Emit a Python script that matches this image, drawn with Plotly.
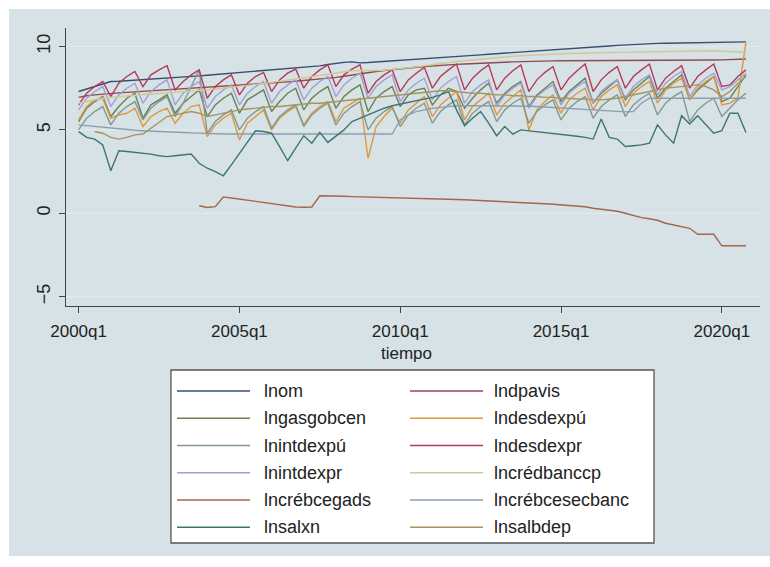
import plotly.graph_objects as go

# ---------------- data ----------------
quarters = [f"{y}q{q}" for y in range(2000, 2021) for q in range(1, 5)]
tick_vals = ["2000q1", "2005q1", "2010q1", "2015q1", "2020q1"]
ytick_vals = [-5, 0, 5, 10]

lnom = [7.30, 7.45, 7.60, 7.75, 7.90, 7.92, 7.95, 7.97, 8.00, 8.03, 8.06, 8.08,
        8.12, 8.16, 8.20, 8.24, 8.28, 8.32, 8.36, 8.40, 8.44, 8.48, 8.52, 8.55,
        8.58, 8.62, 8.66, 8.70, 8.74, 8.78, 8.84, 8.92, 9.00, 9.05, 9.08, 9.02,
        9.04, 9.07, 9.10, 9.15, 9.18, 9.21, 9.25, 9.28, 9.31, 9.34, 9.37, 9.40,
        9.43, 9.47, 9.50, 9.54, 9.57, 9.61, 9.64, 9.68, 9.71, 9.75, 9.78, 9.82,
        9.85, 9.87, 9.89, 9.92, 9.95, 9.99, 10.03, 10.07, 10.10, 10.13, 10.15, 10.17,
        10.19, 10.20, 10.21, 10.22, 10.22, 10.23, 10.24, 10.25, 10.25, 10.26, 10.27, 10.28]

lndpavis = [6.95, 7.05, 7.10, 7.15, 7.20, 7.22, 7.25, 7.28, 7.30, 7.33, 7.36, 7.40,
            7.42, 7.45, 7.48, 7.52, 7.55, 7.58, 7.61, 7.64, 7.67, 7.70, 7.73, 7.77,
            7.80, 7.84, 7.88, 7.92, 7.96, 8.00, 8.05, 8.10, 8.15, 8.22, 8.30, 8.36,
            8.42, 8.50, 8.56, 8.62, 8.68, 8.72, 8.76, 8.80, 8.84, 8.87, 8.90, 8.93,
            8.95, 8.98, 9.00, 9.02, 9.04, 9.06, 9.08, 9.10, 9.11, 9.12, 9.13, 9.14,
            9.15, 9.15, 9.16, 9.16, 9.16, 9.17, 9.17, 9.17, 9.17, 9.17, 9.18, 9.18,
            9.18, 9.18, 9.18, 9.18, 9.18, 9.18, 9.19, 9.19, 9.20, 9.22, 9.24, 9.25]

lngasgobcen = [5.5, 6.3, 6.7, 7.0, 5.8, 6.4, 6.9, 7.2, 5.7, 6.5, 6.8, 7.1,
               6.0, 6.6, 7.0, 7.4, 5.8, 6.5, 6.9, 7.2, 6.0, 6.8, 7.1, 7.4,
               6.1, 6.7, 7.2, 7.5, 6.2, 6.9, 7.3, 7.6, 6.3, 7.0, 7.4, 7.7,
               6.1, 6.9, 7.3, 7.6, 6.4, 7.1, 7.4, 7.5, 6.5, 7.1, 7.5, 7.3,
               6.3, 6.9, 7.4, 7.8, 6.6, 7.2, 7.6, 7.9, 6.4, 7.1, 7.5, 7.9,
               6.7, 7.3, 7.7, 8.1, 6.6, 7.2, 7.6, 8.0, 6.8, 7.4, 7.8, 8.2,
               6.9, 7.5, 7.9, 8.3, 6.8, 7.4, 7.8, 8.2, 6.7, 6.9, 7.6, 8.3]

lndesdexpu = [5.6, 6.4, 6.8, 6.9, 5.7, 5.9, 6.0, 6.3, 5.2, 5.8, 6.1, 6.3,
              5.4, 6.0, 6.4, 6.5, 4.6, 5.3, 5.7, 6.0, 4.4, 5.4, 5.8, 6.2,
              5.0, 5.7, 6.1, 6.4, 5.3, 6.0, 6.4, 6.7, 5.5, 6.3, 6.6, 6.9,
              3.3, 5.2, 5.8, 6.3, 5.4, 6.2, 6.6, 7.0, 5.8, 6.5, 6.9, 7.3,
              5.6, 6.4, 6.8, 7.2, 5.9, 6.6, 7.0, 7.4, 5.0, 6.2, 6.7, 7.1,
              6.0, 6.8, 7.2, 7.5, 6.2, 7.0, 7.4, 7.7, 6.4, 7.2, 7.6, 7.9,
              6.6, 7.4, 7.8, 8.1, 6.8, 7.5, 7.9, 8.2, 6.5, 6.6, 6.9, 10.25]

lnintdexpu = [5.0, 5.7, 6.1, 6.4, 5.3, 6.0, 6.4, 6.7, 5.6, 6.3, 6.7, 7.0,
              5.8, 6.6, 7.6, 8.6, 4.8, 5.5, 5.9, 6.2, 5.0, 5.7, 6.1, 6.4,
              5.1, 5.8, 6.2, 6.5, 5.2, 5.9, 6.3, 6.6, 5.3, 6.0, 6.4, 6.7,
              5.0, 5.7, 6.1, 6.4, 5.2, 5.9, 6.3, 6.6, 5.4, 6.1, 6.5, 6.8,
              5.3, 6.0, 6.4, 6.7, 5.5, 6.2, 6.6, 6.9, 5.4, 6.1, 6.5, 6.8,
              5.6, 6.3, 6.7, 7.0, 5.7, 6.4, 6.8, 7.1, 5.8, 6.5, 6.9, 7.2,
              5.9, 6.6, 7.0, 7.3, 5.5, 6.2, 6.6, 6.9, 5.8, 6.3, 6.8, 7.2]

lndesdexpr = [6.5, 7.2, 7.6, 7.9, 7.0, 7.8, 8.2, 8.5, 7.6, 8.3, 8.6, 8.85,
              7.4, 7.9, 8.3, 8.6, 6.9, 7.6, 8.0, 8.3, 7.1, 7.8, 8.2, 8.45,
              7.3, 8.0, 8.4, 8.65, 7.5, 8.2, 8.6, 8.9, 7.6, 8.3, 8.65, 8.9,
              7.2, 7.9, 8.3, 8.6, 7.3, 8.0, 8.4, 8.75, 7.5, 8.2, 8.6, 8.95,
              7.4, 8.1, 8.55, 8.9, 7.4, 8.1, 8.55, 8.9, 7.3, 8.0, 8.45, 8.8,
              7.4, 8.1, 8.55, 8.95, 7.3, 8.0, 8.45, 8.8, 7.5, 8.2, 8.6, 8.95,
              7.4, 8.1, 8.5, 8.85, 7.5, 8.2, 8.6, 8.95, 7.6, 7.7, 8.2, 8.6]

lnintdexpr = [6.2, 6.9, 7.3, 7.6, 6.4, 7.1, 7.5, 7.8, 6.6, 7.3, 7.7, 8.0,
              6.5, 7.2, 7.6, 7.9, 6.3, 7.0, 7.4, 7.7, 6.5, 7.2, 7.6, 7.9,
              6.6, 7.3, 7.7, 8.0, 6.8, 7.5, 7.9, 8.2, 7.0, 7.7, 8.1, 8.4,
              6.9, 7.6, 8.0, 8.3, 6.7, 7.4, 7.8, 8.1, 6.8, 7.5, 7.9, 8.2,
              6.6, 7.3, 7.7, 8.0, 6.4, 7.1, 7.5, 7.8, 6.3, 7.0, 7.4, 7.7,
              6.5, 7.2, 7.6, 7.9, 6.6, 7.3, 7.7, 8.0, 6.9, 7.6, 8.0, 8.3,
              7.1, 7.8, 8.2, 8.5, 7.0, 7.7, 8.1, 8.4, 7.4, 7.6, 8.0, 8.4]

lncredbanccp = [6.60, 6.70, 6.80, 6.90, 6.95, 7.00, 7.05, 7.10, 7.12, 7.15, 7.18, 7.22,
                7.25, 7.28, 7.32, 7.36, 7.40, 7.45, 7.50, 7.55, 7.60, 7.66, 7.72, 7.78,
                7.85, 7.92, 7.98, 8.05, 8.12, 8.20, 8.28, 8.36, 8.44, 8.50, 8.55, 8.56,
                8.55, 8.56, 8.58, 8.62, 8.66, 8.72, 8.78, 8.85, 8.92, 8.98, 9.04, 9.10,
                9.15, 9.20, 9.25, 9.30, 9.34, 9.38, 9.42, 9.45, 9.48, 9.51, 9.53, 9.55,
                9.57, 9.58, 9.60, 9.61, 9.62, 9.63, 9.64, 9.65, 9.66, 9.67, 9.68, 9.69,
                9.70, 9.71, 9.72, 9.73, 9.73, 9.74, 9.74, 9.75, 9.72, 9.70, 9.68, 9.66]

lncrebcegads = [None, None, None, None, None, None, None, None, None, None, None, None,
                None, None, None, 0.45, 0.35, 0.40, 0.98, 0.92, 0.85, 0.78, 0.72, 0.66,
                0.60, 0.52, 0.45, 0.38, 0.36, 0.38, 1.05, 1.05, 1.03, 1.02, 1.00, 0.99,
                0.98, 0.97, 0.96, 0.95, 0.94, 0.92, 0.91, 0.90, 0.88, 0.86, 0.85, 0.83,
                0.81, 0.79, 0.77, 0.75, 0.73, 0.70, 0.68, 0.66, 0.63, 0.60, 0.57, 0.54,
                0.51, 0.47, 0.43, 0.39, 0.30, 0.25, 0.20, 0.12, 0.00, -0.15, -0.26, -0.33,
                -0.42, -0.60, -0.70, -0.82, -0.90, -1.26, -1.26, -1.26, -1.95, -1.95, -1.95, -1.95]

lncrebcesecbanc = [5.30, 5.25, 5.20, 5.15, 5.10, 5.05, 5.00, 4.98, 4.95, 4.92, 4.90, 4.88,
                   4.86, 4.84, 4.82, 4.80, 4.75, 4.75, 4.75, 4.75, 4.75, 4.75, 4.75, 4.75,
                   4.75, 4.75, 4.75, 4.75, 4.75, 4.75, 4.75, 4.75, 4.75, 4.75, 4.75, 4.75,
                   4.75, 4.75, 4.75, 4.75, 5.60, 5.90, 6.10, 6.20, 6.30, 6.35, 6.40, 6.45,
                   6.45, 6.45, 6.45, 6.45, 6.45, 6.45, 6.45, 6.44, 6.42, 6.40, 6.37, 6.34,
                   6.30, 6.27, 6.24, 6.20, 6.18, 6.15, 6.12, 6.10, 6.08, 6.10, 6.60, 6.90,
                   6.90, 6.90, 6.90, 6.90, 6.90, 6.90, 6.90, 6.90, 6.90, 6.90, 6.90, 6.90]

lnsalxn = [4.90, 4.55, 4.45, 4.10, 2.55, 3.75, 3.70, 3.65, 3.60, 3.55, 3.45, 3.40,
           3.45, 3.50, 3.55, 3.00, 2.70, 2.50, 2.25, 2.90, 3.60, 4.30, 4.95, 4.90,
           4.80, 4.00, 3.15, 3.90, 4.65, 4.20, 4.85, 4.25, 4.60, 5.00, 5.50, 5.70,
           5.90, 6.10, 6.30, 6.45, 6.55, 6.65, 6.75, 6.85, 6.95, 7.10, 7.30, 6.20,
           5.25, 5.70, 6.10, 5.40, 4.65, 5.20, 4.75, 5.00, 4.95, 4.90, 4.85, 4.80,
           4.75, 4.70, 4.62, 4.55, 4.45, 5.65, 4.55, 4.45, 4.00, 4.05, 4.10, 4.20,
           5.30, 4.70, 4.20, 5.85, 5.35, 5.85, 5.30, 4.80, 4.95, 6.00, 6.00, 4.85]

lnsalbdep = [None, None, 4.90, 4.80, 4.55, 4.45, 4.55, 4.70, 4.75, 5.10, 5.50, 5.80,
             5.90, 6.00, 6.10, 6.00, 5.80, 5.90, 6.00, 6.10, 6.20, 6.25, 6.30, 6.35,
             6.40, 6.40, 6.45, 6.50, 6.55, 6.60, 6.60, 6.65, 6.70, 6.75, 6.80, 6.85,
             6.90, 6.95, 7.00, 7.05, 7.10, 7.15, 7.20, 7.25, 7.30, 7.35, 7.35, 7.30,
             7.25, 7.20, 7.20, 7.15, 7.10, 7.10, 7.05, 7.05, 7.00, 7.00, 6.95, 6.95,
             6.90, 6.90, 6.85, 6.85, 6.80, 6.80, 6.85, 6.90, 7.00, 7.10, 7.20, 7.30,
             7.40, 7.50, 7.55, 7.60, 7.65, 7.70, 7.60, 7.40, 7.00, 7.30, 7.80, 8.20]

series_names = ["lnom", "lndpavis", "lngasgobcen", "lndesdexpú", "lnintdexpú", "lndesdexpr",
                "lnintdexpr", "lncrédbanccp", "lncrébcegads", "lncrébcesecbanc", "lnsalxn", "lnsalbdep"]
series_values = [lnom, lndpavis, lngasgobcen, lndesdexpu, lnintdexpu, lndesdexpr,
                 lnintdexpr, lncredbanccp, lncrebcegads, lncrebcesecbanc, lnsalxn, lnsalbdep]
# muted Stata s2color palette (as it appears in the washed-out reference)
series_colors = ["#34506e", "#93494e", "#6b8052", "#e0973c", "#83998f", "#b53a5a",
                 "#a39fd4", "#d0c993", "#a4654a", "#8c9fb2", "#3f7570", "#a59560"]

# ---------------- layout geometry (pixels) ----------------
W, H = 770, 567
L, R, T, B = 66, 10, 28, 261
PW, PH = W - L - R, H - T - B
FONT = "Liberation Sans, Arial, sans-serif"


def fx(px):
    return (px - L) / PW


def fy(py):
    return (T + PH - py) / PH


fig = go.Figure()
for name, vals, col in zip(series_names, series_values, series_colors):
    fig.add_trace(go.Scatter(x=quarters, y=vals, mode="lines", name=name,
                             line=dict(color=col, width=1.4), connectgaps=False,
                             showlegend=False))

shapes = []
# outer light bluish-gray graph region
shapes.append(dict(type="rect", xref="paper", yref="paper", x0=fx(9), x1=fx(770), y0=fy(556), y1=fy(9),
                   fillcolor="#d6e2e5", line=dict(width=0), layer="below"))
# gridlines
for v in ytick_vals:
    shapes.append(dict(type="line", xref="paper", yref="y", x0=0, x1=1, y0=v, y1=v,
                       line=dict(color="#e2eaec", width=1.2), layer="below"))

# legend box
lx0, lx1, ly0, ly1 = 171, 654, 370, 543
shapes.append(dict(type="rect", xref="paper", yref="paper", x0=fx(lx0), x1=fx(lx1), y0=fy(ly1), y1=fy(ly0),
                   fillcolor="white", line=dict(color="#555555", width=1.3), layer="above"))
annotations = []
row_y = [391, 418.3, 445.5, 472.7, 500, 527.3]
col_line = [(177, 250), (410, 483)]
col_text = [262, 492]
for i, (name, col) in enumerate(zip(series_names, series_colors)):
    r, c = divmod(i, 2)
    yy = fy(row_y[r])
    shapes.append(dict(type="line", xref="paper", yref="paper", x0=fx(col_line[c][0]), x1=fx(col_line[c][1]),
                       y0=yy, y1=yy, line=dict(color=col, width=1.6), layer="above"))
    annotations.append(dict(xref="paper", yref="paper", x=fx(col_text[c]), y=yy, text=name, showarrow=False,
                            xanchor="left", yanchor="middle", font=dict(family=FONT, size=18, color="#222222")))

annotations.append(dict(xref="paper", yref="paper", x=fx(406), y=fy(353), text="tiempo", showarrow=False,
                        xanchor="center", yanchor="middle", borderpad=0,
                        font=dict(family=FONT, size=17, color="#222222")))

fig.update_layout(
    width=W, height=H,
    margin=dict(l=L, r=R, t=T, b=B, pad=0, autoexpand=False),
    paper_bgcolor="white", plot_bgcolor="white",
    shapes=shapes, annotations=annotations,
    showlegend=False,
    font=dict(family=FONT, size=18, color="#222222"),
)
fig.update_xaxes(type="category", range=[-1.57, 84.75], tickmode="array", tickvals=tick_vals,
                 ticktext=tick_vals, ticks="outside", ticklen=6, tickcolor="#444444",
                 showline=True, linecolor="#444444", linewidth=1.2, showgrid=False, zeroline=False,
                 tickfont=dict(family=FONT, size=17, color="#222222"), automargin=False,
                 ticklabelstandoff=3)
fig.update_yaxes(range=[-5.56, 11.11], tickmode="array", tickvals=ytick_vals,
                 ticks="outside", ticklen=6, tickcolor="#444444", tickangle=-90,
                 showline=True, linecolor="#444444", linewidth=1.2, showgrid=False, zeroline=False,
                 tickfont=dict(family=FONT, size=18, color="#222222"), automargin=False,
                 ticklabelstandoff=2)

fig.write_html("out.html", config={"displayModeBar": False},
               post_script="document.body.style.margin='0';document.body.style.padding='0';")
